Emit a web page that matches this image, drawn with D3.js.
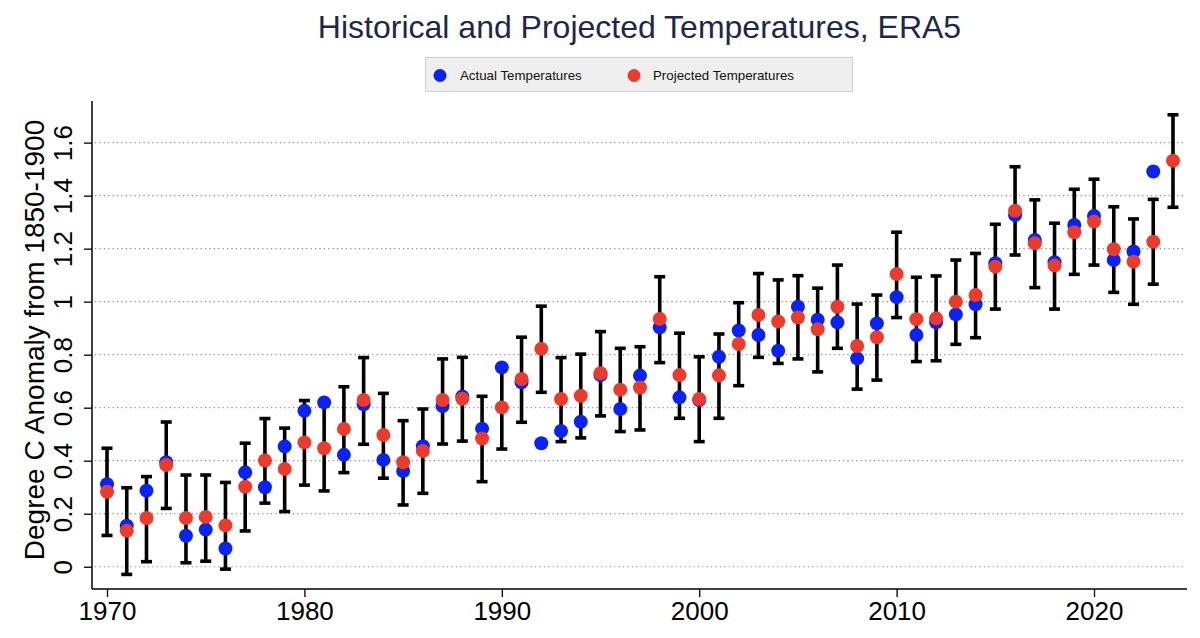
<!DOCTYPE html>
<html>
<head>
<meta charset="utf-8">
<script src="https://cdn.jsdelivr.net/npm/d3@7"></script>
<style>
  html, body { margin: 0; padding: 0; background: #ffffff; }
  svg { display: block; font-family: "Liberation Sans", Arial, Helvetica, sans-serif; }
</style>
</head>
<body>
<svg id="chart" width="1200" height="638"></svg>
<script>
const years = d3.range(1970, 2025);
const actual = [0.311,0.155,0.287,0.394,0.117,0.140,0.069,0.356,0.300,0.454,
                0.588,0.620,0.422,0.613,0.403,0.361,0.455,0.606,0.642,0.521,
                0.752,0.696,0.466,0.512,0.547,0.723,0.595,0.721,0.903,0.639,
                0.629,0.792,0.891,0.874,0.815,0.981,0.932,0.922,0.786,0.918,
                1.017,0.874,0.922,0.952,0.990,1.145,1.327,1.233,1.149,1.289,
                1.323,1.157,1.189,1.491,null];
const projected = [0.283,0.136,0.184,0.384,0.184,0.188,0.156,0.302,0.401,0.369,
                   0.469,0.447,0.520,0.629,0.497,0.394,0.437,0.629,0.634,0.484,
                   0.601,0.708,0.822,0.633,0.645,0.730,0.668,0.676,0.935,0.723,
                   0.633,0.722,0.840,0.950,0.925,0.940,0.896,0.981,0.833,0.866,
                   1.104,0.934,0.937,1.000,1.025,1.132,1.343,1.220,1.136,1.262,
                   1.302,1.198,1.151,1.226,1.532];
const upper = [0.447,0.298,0.340,0.546,0.346,0.346,0.318,0.466,0.559,0.523,
               0.627,0.608,0.679,0.789,0.654,0.551,0.595,0.784,0.790,0.643,
               0.758,0.866,0.983,0.789,0.802,0.887,0.824,0.830,1.094,0.881,
               0.792,0.878,0.996,1.106,1.082,1.098,1.051,1.138,0.991,1.025,
               1.262,1.092,1.097,1.157,1.182,1.292,1.509,1.384,1.296,1.424,
               1.462,1.358,1.312,1.386,1.705];
const lower = [0.118,-0.029,0.019,0.220,0.015,0.021,-0.009,0.135,0.240,0.208,
               0.308,0.286,0.355,0.462,0.334,0.233,0.277,0.463,0.474,0.321,
               0.444,0.545,0.658,0.472,0.486,0.569,0.510,0.516,0.770,0.560,
               0.472,0.560,0.683,0.790,0.767,0.784,0.735,0.824,0.670,0.704,
               0.940,0.774,0.777,0.839,0.864,0.972,1.176,1.053,0.972,1.103,
               1.138,1.035,0.990,1.066,1.356];
const xTicks = [1970, 1980, 1990, 2000, 2010, 2020];
const xTickLabels = ["1970", "1980", "1990", "2000", "2010", "2020"];
const yTicks = [0, 0.2, 0.4, 0.6, 0.8, 1, 1.2, 1.4, 1.6];
const yTickLabels = ["0", "0.2", "0.4", "0.6", "0.8", "1", "1.2", "1.4", "1.6"];
const seriesNames = ["Actual Temperatures", "Projected Temperatures"];
const titleText = "Historical and Projected Temperatures, ERA5";
const yTitle = "Degree C Anomaly from 1850-1900";

(function () {
const BLUE = "#0b22f5", RED = "#ea3b2d";
const FONT = "'Liberation Sans', Arial, Helvetica, sans-serif";
const svg = d3.select("#chart");
const pL = 92, pR = 1187, pT = 101, pB = 589;

const x = d3.scaleLinear().domain([1969.24, 2024.71]).range([pL, pR]);
const y = d3.scaleLinear().domain([-0.084, 1.757]).range([pB, pT]);

// gridlines
svg.append("g").selectAll("line").data(yTicks).join("line")
  .attr("x1", pL + 3).attr("x2", pR - 2)
  .attr("y1", d => y(d)).attr("y2", d => y(d))
  .attr("stroke", "#8a8a8a").attr("stroke-width", 1.2)
  .attr("stroke-dasharray", "1.2,3.2");

// y axis
const yAxis = svg.append("g").attr("transform", `translate(${pL},0)`)
  .call(d3.axisLeft(y).tickValues(yTicks).tickFormat((d, i) => yTickLabels[i]).tickSize(8).tickSizeOuter(0));
yAxis.select(".domain").remove();
yAxis.append("line").attr("x1", 0).attr("x2", 0).attr("y1", pT).attr("y2", pB)
  .attr("stroke", "#000").attr("stroke-width", 1.5);
yAxis.selectAll(".tick line").attr("stroke", "#000").attr("stroke-width", 1.3);
yAxis.selectAll(".tick text")
  .attr("x", 0).attr("dy", 0)
  .attr("transform", "translate(-20,0) rotate(-90)")
  .attr("text-anchor", "middle")
  .attr("fill", "#000")
  .style("font-size", "26px")
  .style("font-family", FONT);

// x axis
const xAxis = svg.append("g").attr("transform", `translate(0,${pB})`)
  .call(d3.axisBottom(x).tickValues(xTicks).tickFormat((d, i) => xTickLabels[i]).tickSize(8).tickSizeOuter(0));
xAxis.select(".domain").remove();
xAxis.append("line").attr("x1", pL).attr("x2", pR).attr("y1", 0).attr("y2", 0)
  .attr("stroke", "#000").attr("stroke-width", 1.5);
xAxis.selectAll(".tick line").attr("stroke", "#000").attr("stroke-width", 1.3);
xAxis.selectAll(".tick text")
  .attr("y", 13).attr("dy", "0.71em")
  .attr("fill", "#000")
  .style("font-size", "26px")
  .style("font-family", FONT);

// axis title
svg.append("text")
  .attr("transform", `translate(44,${(pT + pB) / 2 - 5}) rotate(-90)`)
  .attr("text-anchor", "middle")
  .style("font-size", "28px")
  .attr("fill", "#000")
  .text(yTitle);

// title
svg.append("text")
  .attr("x", (pL + pR) / 2).attr("y", 38)
  .attr("text-anchor", "middle")
  .style("font-size", "32px")
  .attr("fill", "#1d2748")
  .text(titleText);

// legend
const lg = svg.append("g");
lg.append("rect").attr("x", 425.5).attr("y", 57.5).attr("width", 427).attr("height", 34)
  .attr("fill", "#efefef").attr("stroke", "#cfd3d9").attr("stroke-width", 1.2);
const legendItems = [{name: seriesNames[0], color: BLUE, cx: 440, tx: 460},
                     {name: seriesNames[1], color: RED, cx: 634, tx: 653}];
lg.selectAll("circle").data(legendItems).join("circle")
  .attr("cx", d => d.cx).attr("cy", 75.5).attr("r", 6.5).attr("fill", d => d.color);
lg.selectAll("text").data(legendItems).join("text")
  .attr("x", d => d.tx).attr("y", 80)
  .style("font-size", "13.3px").attr("fill", "#111")
  .text(d => d.name);

// data
const data = years.map((yr, i) => ({yr, a: actual[i], p: projected[i], lo: lower[i], hi: upper[i]}));

const eb = svg.append("g").attr("stroke", "#000").attr("stroke-width", 3.6);
eb.selectAll("line.v").data(data).join("line").attr("class", "v")
  .attr("x1", d => x(d.yr)).attr("x2", d => x(d.yr))
  .attr("y1", d => y(d.lo)).attr("y2", d => y(d.hi));
eb.selectAll("line.t").data(data).join("line").attr("class", "t")
  .attr("x1", d => x(d.yr) - 5.5).attr("x2", d => x(d.yr) + 5.5)
  .attr("y1", d => y(d.hi)).attr("y2", d => y(d.hi));
eb.selectAll("line.b").data(data).join("line").attr("class", "b")
  .attr("x1", d => x(d.yr) - 5.5).attr("x2", d => x(d.yr) + 5.5)
  .attr("y1", d => y(d.lo)).attr("y2", d => y(d.lo));

svg.append("g").selectAll("circle").data(data.filter(d => d.a !== null)).join("circle")
  .attr("cx", d => x(d.yr)).attr("cy", d => y(d.a)).attr("r", 7).attr("fill", BLUE);
svg.append("g").selectAll("circle").data(data).join("circle")
  .attr("cx", d => x(d.yr)).attr("cy", d => y(d.p)).attr("r", 7).attr("fill", RED);
})();
</script>
</body>
</html>
